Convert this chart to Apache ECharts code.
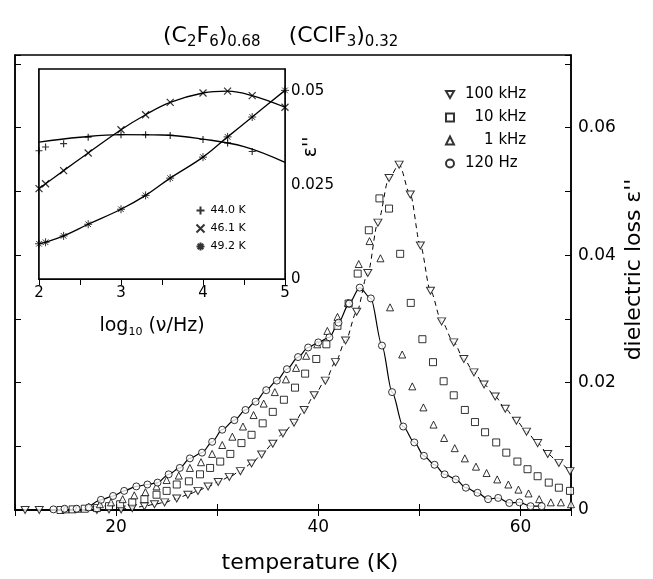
<!DOCTYPE html>
<html>
<head>
<meta charset="utf-8">
<script src="https://cdn.jsdelivr.net/npm/echarts@6/dist/echarts.min.js"></script>
<style>
html,body{margin:0;padding:0;background:#fff;}
#chart{width:653px;height:579px;}
</style>
</head>
<body>
<div id="chart"></div>
<script>
// ---------- main plot data ----------
var xTicks = [20, 40, 60];
var yTicks = [0, 0.02, 0.04, 0.06];

var t100k = [11.0, 12.4, 18.1, 19.3, 20.5, 21.6, 22.8, 23.8, 24.8, 26.0, 27.1, 28.1, 29.1, 30.1, 31.2, 32.3, 33.4, 34.4, 35.5, 36.5, 37.6, 38.6, 39.6, 40.7, 41.7, 42.7, 43.8, 44.9, 45.9, 47.0, 48.0, 49.1, 50.1, 51.1, 52.2, 53.4, 54.4, 55.4, 56.4, 57.5, 58.5, 59.6, 60.6, 61.7, 62.7, 63.8, 64.9];
var e100k = [0, 0, 0, 0.0001, 0.0001, 0.0003, 0.0006, 0.0009, 0.0012, 0.0018, 0.0024, 0.0030, 0.0037, 0.0044, 0.0052, 0.0061, 0.0073, 0.0087, 0.0104, 0.0120, 0.0137, 0.0157, 0.0180, 0.0203, 0.0232, 0.0266, 0.0311, 0.0372, 0.0451, 0.0521, 0.0542, 0.0495, 0.0415, 0.0344, 0.0296, 0.0263, 0.0237, 0.0216, 0.0197, 0.0178, 0.0159, 0.0140, 0.0123, 0.0105, 0.0088, 0.0074, 0.0061];

var t10k = [14.5, 15.7, 16.9, 18.1, 19.3, 20.4, 21.6, 22.8, 24.0, 25.0, 26.0, 27.2, 28.3, 29.3, 30.3, 31.3, 32.4, 33.4, 34.5, 35.5, 36.6, 37.7, 38.7, 39.8, 40.8, 41.9, 43.0, 43.9, 45.0, 46.05, 47.0, 48.1, 49.15, 50.3, 51.35, 52.4, 53.4, 54.5, 55.5, 56.5, 57.6, 58.6, 59.7, 60.7, 61.7, 62.8, 63.8, 64.9];
var e10k = [0, 0.0001, 0.0002, 0.0003, 0.0006, 0.0009, 0.0012, 0.0017, 0.0024, 0.0030, 0.0040, 0.0045, 0.0056, 0.0066, 0.0076, 0.0088, 0.0105, 0.0118, 0.0136, 0.0154, 0.0173, 0.0192, 0.0214, 0.0237, 0.0260, 0.0289, 0.0324, 0.0371, 0.0439, 0.0489, 0.0473, 0.0402, 0.0325, 0.0268, 0.0232, 0.0202, 0.0180, 0.0157, 0.0138, 0.0122, 0.0106, 0.0090, 0.0076, 0.0064, 0.0053, 0.0043, 0.0035, 0.0030];

var t1k = [15.0, 16.2, 17.3, 18.4, 19.5, 20.65, 21.8, 22.9, 24.0, 25.0, 26.2, 27.3, 28.4, 29.5, 30.5, 31.5, 32.55, 33.6, 34.6, 35.7, 36.8, 37.8, 38.8, 39.9, 40.9, 41.9, 42.95, 44.0, 45.07, 46.15, 47.1, 48.3, 49.3, 50.4, 51.4, 52.45, 53.5, 54.5, 55.6, 56.65, 57.7, 58.8, 59.8, 60.8, 61.85, 63.0, 64.0, 65.0];
var e1k = [0.0001, 0.0002, 0.0005, 0.0009, 0.0012, 0.0017, 0.0023, 0.0028, 0.0037, 0.0047, 0.0054, 0.0066, 0.0075, 0.0088, 0.0102, 0.0115, 0.0131, 0.0149, 0.0167, 0.0185, 0.0205, 0.0223, 0.0242, 0.0260, 0.0281, 0.0303, 0.0325, 0.0386, 0.0422, 0.0395, 0.0318, 0.0244, 0.0194, 0.0161, 0.0134, 0.0113, 0.0097, 0.0081, 0.0068, 0.0058, 0.0048, 0.0040, 0.0032, 0.0026, 0.0017, 0.0012, 0.0012, 0.0009];

var t120 = [13.8, 14.9, 16.1, 17.3, 18.5, 19.7, 20.8, 22.0, 23.1, 24.1, 25.2, 26.3, 27.3, 28.5, 29.5, 30.5, 31.7, 32.8, 33.8, 34.85, 35.9, 36.9, 38.0, 39.0, 40.0, 41.1, 42.0, 43.05, 44.1, 45.2, 46.3, 47.3, 48.4, 49.5, 50.45, 51.5, 52.5, 53.6, 54.6, 55.75, 56.8, 57.8, 58.9, 59.9, 61.0, 62.1];
var e120 = [0.0001, 0.0002, 0.0002, 0.0004, 0.0016, 0.0022, 0.0030, 0.0037, 0.0040, 0.0043, 0.0056, 0.0066, 0.0081, 0.0090, 0.0107, 0.0126, 0.0141, 0.0157, 0.0170, 0.0188, 0.0203, 0.0221, 0.0240, 0.0255, 0.0263, 0.0271, 0.0294, 0.0324, 0.0349, 0.0332, 0.0258, 0.0185, 0.0131, 0.0106, 0.0085, 0.0071, 0.0056, 0.0048, 0.0035, 0.0027, 0.0017, 0.0019, 0.0011, 0.0012, 0.0006, 0.0006];

// ---------- inset data ----------
var insetXTicks = [2, 3, 4, 5];
var insetYTicks = [0, 0.025, 0.05];
var logF = [2, 2.08, 2.3, 2.6, 3, 3.3, 3.6, 4, 4.3, 4.6, 5];
var logF44 = [2, 2.08, 2.3, 2.6, 3, 3.3, 3.6, 4, 4.3, 4.6];
var eps44 = [0.0342, 0.0352, 0.0361, 0.0378, 0.0385, 0.0385, 0.0383, 0.0372, 0.0363, 0.0340];
var eps46 = [0.0241, 0.0254, 0.0289, 0.0336, 0.0398, 0.0438, 0.0471, 0.0496, 0.0501, 0.0489, 0.0458];
var eps49 = [0.0094, 0.0098, 0.0115, 0.0146, 0.0186, 0.0223, 0.0269, 0.0325, 0.0379, 0.0432, 0.0503];
var fitLog44 = [2, 2.5, 3, 3.5, 4, 4.5, 5];
var fitEps44 = [0.0365, 0.0378, 0.0385, 0.0384, 0.0373, 0.0353, 0.0311];

function pairs(xs, ys) { return xs.map(function (x, i) { return [x, ys[i]]; }); }
function near(v, list) { for (var i = 0; i < list.length; i++) { if (Math.abs(v - list[i]) < 1e-6) return true; } return false; }

var FONT = 'DejaVu Sans';
var BLACK = '#000';
var hollow = { color: '#fff', borderColor: BLACK, borderWidth: 1 };
var stroke = { color: 'none', borderColor: BLACK, borderWidth: 1.2 };
var TRI_DOWN = 'path://M0,0L10,0L5,8.7Z';
var PLUS = 'path://M5,0L5,10M0,5L10,5';
var CROSS = 'path://M0,0L10,10M10,0L0,10';
var STAR = 'path://M5,0L5,10M0,5L10,5M1.5,1.5L8.5,8.5M8.5,1.5L1.5,8.5';

function tickAxis(extra) {
  var base = {
    axisLine: { show: true, lineStyle: { color: BLACK, width: 1.5 } },
    axisTick: { show: true, inside: true, length: 6, lineStyle: { color: BLACK, width: 1 } },
    splitLine: { show: false },
    axisLabel: { show: false },
    nameMoveOverlap: false
  };
  for (var k in extra) base[k] = extra[k];
  return base;
}

var chart = echarts.init(document.getElementById('chart'), null, { renderer: 'canvas' });
var option = {
  backgroundColor: '#fff',
  animation: false,
  title: {
    text: '(C{s|2}F{s|6}){s|0.68}    (CClF{s|3}){s|0.32}',
    left: 158, top: 17,
    textStyle: {
      fontFamily: FONT, fontSize: 22, fontWeight: 'normal', color: BLACK,
      rich: { s: { fontFamily: FONT, fontSize: 15, color: BLACK, padding: [13, 0, 0, 0] } }
    }
  },
  legend: [
    {
      data: ['100 kHz', '\u200710 kHz', '\u2007\u20071 kHz', '120 Hz'],
      orient: 'vertical', left: 440, top: 82, itemWidth: 8, itemHeight: 8, itemGap: 8,
      textStyle: { fontFamily: FONT, fontSize: 15, color: BLACK, padding: [0, 0, 0, 6] }
    },
    {
      data: ['44.0 K', '46.1 K', '49.2 K'],
      orient: 'vertical', left: 189, top: 199, itemWidth: 8, itemHeight: 8, itemGap: 5,
      textStyle: { fontFamily: FONT, fontSize: 11, color: BLACK, padding: [0, 0, 0, 1] }
    }
  ],
  grid: [
    { left: 15, top: 55, width: 563, height: 459, show: true, borderColor: BLACK, borderWidth: 1.5, backgroundColor: 'transparent' },
    { left: 39, top: 69, width: 246, height: 210, show: true, borderColor: BLACK, borderWidth: 1.5, backgroundColor: '#fff', z: 3 }
  ],
  xAxis: [
    tickAxis({
      gridIndex: 0, type: 'value', position: 'bottom', min: 10, max: 65, interval: 10,
      axisLabel: { show: true, color: BLACK, fontFamily: FONT, fontSize: 17, margin: 9,
        formatter: function (v) { return near(v, xTicks) ? String(v) : ''; } },
      name: 'temperature (K)', nameLocation: 'middle', nameGap: 42,
      nameTextStyle: { fontFamily: FONT, fontSize: 22, color: BLACK, padding: [0, 0, 0, 34] }
    }),
    tickAxis({ gridIndex: 0, type: 'value', position: 'top', min: 10, max: 65, interval: 10 }),
    tickAxis({
      gridIndex: 1, type: 'value', position: 'bottom', min: 2, max: 5, interval: 0.5,
      axisLabel: { show: true, color: BLACK, fontFamily: FONT, fontSize: 15, margin: 7,
        formatter: function (v) { return near(v, insetXTicks) ? String(v) : ''; } },
      name: 'log{sub|10} (ν/Hz)', nameLocation: 'middle', nameGap: 36,
      nameTextStyle: { fontFamily: FONT, fontSize: 19, color: BLACK, padding: [0, 20, 0, 0],
        rich: { sub: { fontFamily: FONT, fontSize: 11, color: BLACK, padding: [12, 0, 0, 0] } } }
    }),
    tickAxis({ gridIndex: 1, type: 'value', position: 'top', min: 2, max: 5, interval: 0.5 })
  ],
  yAxis: [
    tickAxis({
      gridIndex: 0, type: 'value', position: 'right', min: 0, max: 0.0714, interval: 0.01,
      axisLabel: { show: true, color: BLACK, fontFamily: FONT, fontSize: 17, margin: 7,
        formatter: function (v) { return near(v, yTicks) ? (v === 0 ? '0' : v.toFixed(2)) : ''; } },
      name: "dielectric loss ε''", nameLocation: 'middle', nameRotate: 90, nameGap: 52,
      nameTextStyle: { fontFamily: FONT, fontSize: 22, color: BLACK, padding: [0, 0, 0, 26] }
    }),
    tickAxis({ gridIndex: 0, type: 'value', position: 'left', min: 0, max: 0.0714, interval: 0.01 }),
    tickAxis({
      gridIndex: 1, type: 'value', position: 'right', min: 0, max: 0.056, interval: 0.0125,
      axisLabel: { show: true, color: BLACK, fontFamily: FONT, fontSize: 15, margin: 6,
        formatter: function (v) { return near(v, insetYTicks) ? (v === 0 ? '0' : String(v)) : ''; } },
      name: "ε''", nameLocation: 'middle', nameRotate: 90, nameGap: 17,
      nameTextStyle: { fontFamily: FONT, fontSize: 19, color: BLACK, padding: [0, 0, 0, 54] }
    }),
    tickAxis({ gridIndex: 1, type: 'value', position: 'left', min: 0, max: 0.056, interval: 0.0125 })
  ],
  series: [
    // fit curves, main plot
    { type: 'line', xAxisIndex: 0, yAxisIndex: 0, data: pairs(t100k, e100k).slice(4), smooth: 0.3, smoothMonotone: 'x',
      showSymbol: false, symbol: 'none', lineStyle: { color: BLACK, width: 1, type: [5, 4] }, silent: true, z: 1 },
    { type: 'line', xAxisIndex: 0, yAxisIndex: 0, data: pairs(t120, e120).slice(3), smooth: 0.3, smoothMonotone: 'x',
      showSymbol: false, symbol: 'none', lineStyle: { color: BLACK, width: 1.2 }, silent: true, z: 1 },
    // markers, main plot
    { name: '100 kHz', type: 'scatter', xAxisIndex: 0, yAxisIndex: 0, data: pairs(t100k, e100k),
      symbol: TRI_DOWN, symbolSize: [8, 7], itemStyle: hollow, z: 2 },
    { name: '\u200710 kHz', type: 'scatter', xAxisIndex: 0, yAxisIndex: 0, data: pairs(t10k, e10k),
      symbol: 'rect', symbolSize: 7, itemStyle: hollow, z: 2 },
    { name: '\u2007\u20071 kHz', type: 'scatter', xAxisIndex: 0, yAxisIndex: 0, data: pairs(t1k, e1k),
      symbol: 'triangle', symbolSize: 7, itemStyle: hollow, z: 2 },
    { name: '120 Hz', type: 'scatter', xAxisIndex: 0, yAxisIndex: 0, data: pairs(t120, e120),
      symbol: 'circle', symbolSize: 7, itemStyle: hollow, z: 2 },
    // inset fits
    { type: 'line', xAxisIndex: 2, yAxisIndex: 2, data: pairs(fitLog44, fitEps44), smooth: 0.4,
      showSymbol: false, symbol: 'none', lineStyle: { color: BLACK, width: 1.3 }, silent: true, z: 4 },
    { type: 'line', xAxisIndex: 2, yAxisIndex: 2, data: pairs(logF, eps46), smooth: 0.4,
      showSymbol: false, symbol: 'none', lineStyle: { color: BLACK, width: 1.3 }, silent: true, z: 4 },
    { type: 'line', xAxisIndex: 2, yAxisIndex: 2, data: pairs(logF, eps49), smooth: 0.4,
      showSymbol: false, symbol: 'none', lineStyle: { color: BLACK, width: 1.3 }, silent: true, z: 4 },
    // inset markers
    { name: '44.0 K', type: 'scatter', xAxisIndex: 2, yAxisIndex: 2, data: pairs(logF44, eps44),
      symbol: PLUS, symbolSize: 7, itemStyle: stroke, z: 5 },
    { name: '46.1 K', type: 'scatter', xAxisIndex: 2, yAxisIndex: 2, data: pairs(logF, eps46),
      symbol: CROSS, symbolSize: 7, itemStyle: stroke, z: 5 },
    { name: '49.2 K', type: 'scatter', xAxisIndex: 2, yAxisIndex: 2, data: pairs(logF, eps49),
      symbol: STAR, symbolSize: 8, itemStyle: { color: 'none', borderColor: BLACK, borderWidth: 1 }, z: 5 }
  ]
};
chart.setOption(option);
</script>
</body>
</html>
